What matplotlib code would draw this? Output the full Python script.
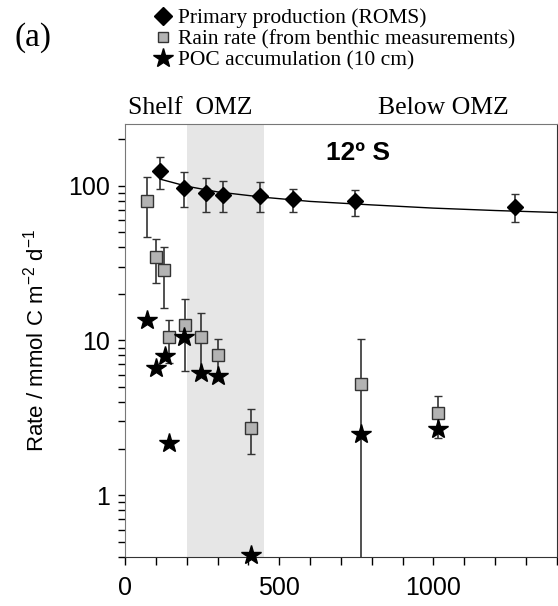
import matplotlib
matplotlib.use('agg')
import matplotlib.pyplot as plt
from matplotlib.lines import Line2D
import numpy as np

# Primary production (ROMS): depth, value, lower/upper error bar ends
pp_x = [114, 192, 261, 318, 438, 545, 745, 1264]
pp_y = [125, 97, 89, 87, 85, 82, 79, 73]
pp_lo = [95, 73, 67, 67, 67, 67, 64, 58]
pp_hi = [154, 122, 112, 107, 105, 95, 94, 88]

# fitted curve through primary production
fit_x = [114, 200, 300, 450, 600, 800, 1000, 1200, 1400]
fit_y = [110, 99, 91, 84, 79, 75, 71.5, 69, 67]

# Rain rate (from benthic measurements)
rr_x = [72, 100, 128, 142, 195, 246, 301, 407, 765, 1014]
rr_y = [80, 34.5, 28.3, 10.6, 12.6, 10.6, 8.0, 2.72, 5.2, 3.38]
rr_lo = [46.4, 23.6, 16.1, 7.2, 6.3, 6.2, 6.0, 1.85, 0.3, 2.36]
rr_hi = [113, 45.3, 40.4, 13.6, 18.6, 15.0, 10.2, 3.6, 10.25, 4.39]

# POC accumulation (10 cm)
poc_x = [72, 100, 130, 142, 192, 246, 301, 407, 765, 1014]
poc_y = [13.6, 6.67, 7.9, 2.16, 10.5, 6.19, 5.93, 0.41, 2.5, 2.68]

serif = ['Liberation Serif', 'DejaVu Serif']
sans = ['Liberation Sans', 'DejaVu Sans']

plt.rcParams['mathtext.fontset'] = 'custom'
plt.rcParams['mathtext.rm'] = 'Liberation Sans'
plt.rcParams['mathtext.it'] = 'Liberation Sans:italic'

fig = plt.figure(figsize=(5.58, 6.06), dpi=100)
ax = fig.add_axes([0.224, 0.081, 0.774, 0.7145])

ax.axvspan(200, 450, color='#e6e6e6', lw=0, zorder=0)

ax.plot(fit_x, fit_y, color='black', lw=1, zorder=2)

def yerr(y, lo, hi):
    y = np.array(y); return [y - np.array(lo), np.array(hi) - y]

ax.errorbar(rr_x, rr_y, yerr=yerr(rr_y, rr_lo, rr_hi), fmt='s', ms=8,
            mfc='#b3b3b3', mec='#333333', mew=1, ecolor='#333333',
            elinewidth=1.2, capsize=3, zorder=3)
ax.errorbar(pp_x, pp_y, yerr=yerr(pp_y, pp_lo, pp_hi), fmt='D', ms=8,
            mfc='black', mec='black', ecolor='#333333',
            elinewidth=1.2, capsize=3, zorder=4)
ax.plot(poc_x, poc_y, '*', ms=15, color='black', ls='none', zorder=5, clip_on=False)

ax.set_yscale('log')
ax.set_ylim(0.4, 250)
ax.set_xlim(0, 1400)
ax.set_xticks([0, 500, 1000])
ax.set_xticks(np.arange(0, 1401, 100), minor=True)
ax.set_yticks([1, 10, 100])
ax.set_yticklabels(['1', '10', '100'])

for lab in ax.get_xticklabels() + ax.get_yticklabels():
    lab.set_family(sans)
    lab.set_fontsize(18)
ax.tick_params(axis='x', which='both', length=6, width=1, direction='out', pad=8)
ax.tick_params(axis='y', which='major', length=5, width=1, direction='out', pad=6)
ax.tick_params(axis='y', which='minor', length=5, width=1, direction='out')

for s in ['top', 'left']:
    ax.spines[s].set_color('#777777')
ax.spines['bottom'].set_color('#333333')
ax.spines['right'].set_color('#333333')

ax.set_ylabel('Rate / mmol C m$^{\\mathrm{-2}}$ d$^{\\mathrm{-1}}$', family=sans,
              fontsize=16, labelpad=14)

ax.text(0.54, 0.933, '12º S', transform=ax.transAxes, family=sans,
        fontsize=19, fontweight='bold', ha='center', va='center')

fig.text(128 / 558, 1 - 108 / 606, 'Shelf  OMZ', family=serif, fontsize=18.5,
         ha='left', va='center')
fig.text(443 / 558, 1 - 108 / 606, 'Below OMZ', family=serif, fontsize=18.5,
         ha='center', va='center')
fig.text(14 / 558, 1 - 38 / 606, '(a)', family=serif, fontsize=24,
         ha='left', va='center')

handles = [
    Line2D([], [], marker='D', color='black', ls='none', ms=9),
    Line2D([], [], marker='s', mfc='#b3b3b3', mec='#333333', ls='none', ms=7),
    Line2D([], [], marker='*', color='black', ls='none', ms=15),
]
labels = ['Primary production (ROMS)', 'Rain rate (from benthic measurements)',
          'POC accumulation (10 cm)']
fig.legend(handles, labels, loc='upper left', bbox_to_anchor=(141 / 558, 1.008),
           frameon=False, prop={'family': serif, 'size': 15.5},
           handlelength=0.8, handletextpad=0.3, labelspacing=0.05,
           borderaxespad=0.2)

plt.savefig('out.png', dpi=100)
